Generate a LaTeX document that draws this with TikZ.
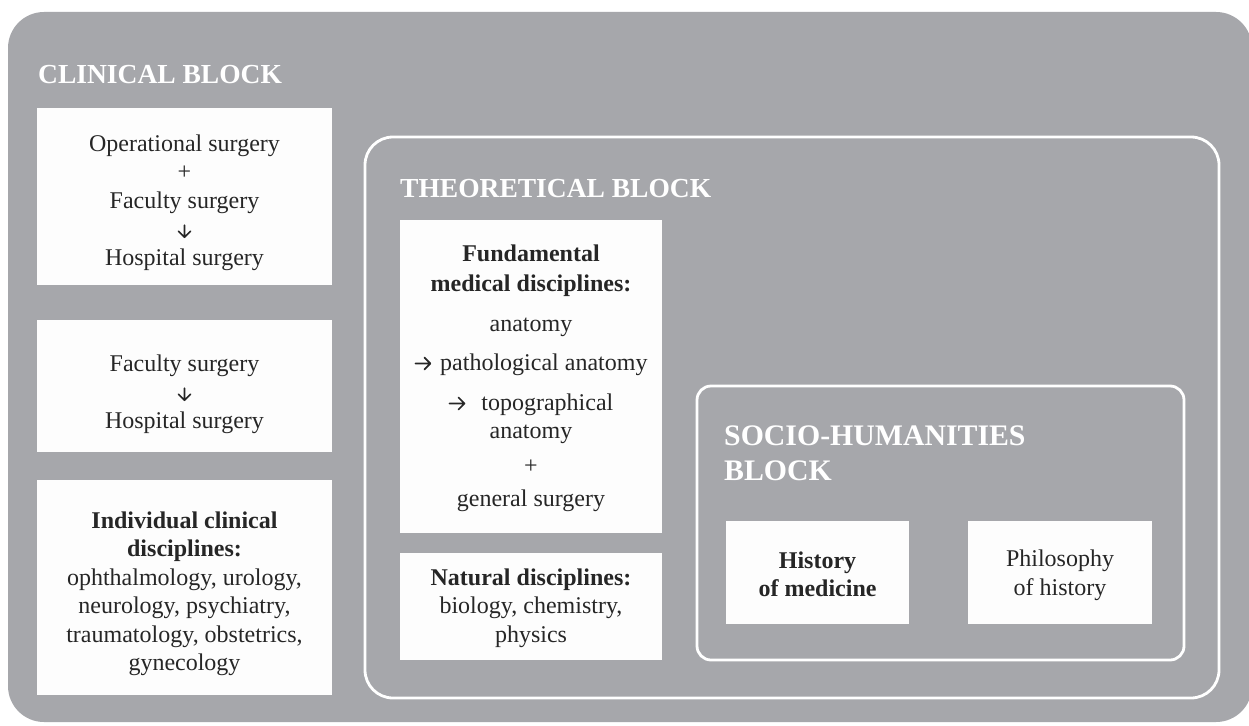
\documentclass[tikz,border=0pt]{standalone}
\usepackage{fontspec}
\setmainfont{Liberation Serif}
\definecolor{bggray}{RGB}{166,167,171}
\definecolor{txt}{RGB}{38,38,38}
\definecolor{boxw}{RGB}{253,253,253}
\newcommand\darr{\tikz[baseline=0pt,x=1pt,y=1pt]\draw[draw=txt,line width=1.7pt,line cap=round,line join=round] (0,11.5)--(0,-0.5) (-6,5.5)--(0,-0.5)--(6,5.5);}
\newcommand\rarr{\tikz[baseline=0pt,x=1pt,y=1pt]\draw[draw=txt,line width=1.7pt,line cap=round,line join=round] (0,7)--(15,7) (9,13)--(15,7)--(9,1);}
\begin{document}
\begin{tikzpicture}[x=1pt,y=-1pt,
  box/.style={fill=boxw, draw=none, inner sep=0pt},
  lbl/.style={align=center, text=txt, inner sep=0pt,
    font=\fontsize{24}{28.5}\selectfont},
  heading/.style={text=white, inner sep=0pt, anchor=base west,
    font=\fontsize{27.5}{33}\selectfont\bfseries},
  frame/.style={draw=white, line width=2.8pt, inner sep=0pt}]
\useasboundingbox (0,0) rectangle (1249,725);
\fill[white] (0,0) rectangle (1249,725);
\fill[bggray, rounded corners=36pt] (8,12) rectangle (1252,722);

% clinical block
\node[heading] (hclin) at (38,83) {CLINICAL BLOCK};
\node[box, minimum width=295pt, minimum height=177pt] (b1) at (184.5,196.5) {};
\node[lbl, yshift=-6pt] (t1) at (b1.center)
  {Operational surgery\\+\\Faculty surgery\\\darr\\Hospital surgery};
\node[box, minimum width=295pt, minimum height=132pt] (b2) at (184.5,386) {};
\node[lbl, yshift=-8pt] (t2) at (b2.center)
  {Faculty surgery\\\darr\\Hospital surgery};
\node[box, minimum width=295pt, minimum height=215pt] (b3) at (184.5,587.5) {};
\node[lbl, yshift=-6.5pt] (t3) at (b3.center)
  {\textbf{Individual clinical}\\\textbf{disciplines:}\\ophthalmology, urology,\\neurology, psychiatry,\\traumatology, obstetrics,\\gynecology};

% theoretical block
\node[frame, rounded corners=28pt, minimum width=854pt, minimum height=561pt] (theo) at (792,417.5) {};
\node[heading] (htheo) at (400,197) {THEORETICAL BLOCK};
\node[box, minimum width=262pt, minimum height=313pt] (fund) at (531,376.5) {};
\node[lbl, yshift=-2pt] (tf) at (fund.center)
  {\textbf{Fundamental}\\[1.5pt]\textbf{medical disciplines:}\\[11.5pt]anatomy\\[10.5pt]\rarr\hspace{9pt}pathological anatomy\\[11.5pt]\rarr\hspace{16pt}topographical\hspace*{23pt}\\anatomy\\[6.5pt]+\\[4.5pt]general surgery};
\node[box, minimum width=262pt, minimum height=107pt] (nat) at (531,606.5) {};
\node[lbl, yshift=-1.5pt] (tn) at (nat.center)
  {\textbf{Natural disciplines:}\\biology, chemistry,\\physics};

% socio-humanities block
\node[frame, rounded corners=14pt, minimum width=487pt, minimum height=274pt] (socio) at (940.5,523) {};
\node[heading, font=\fontsize{29.8}{35}\selectfont\bfseries] (hsoc1) at (724,445) {SOCIO-HUMANITIES};
\node[heading, font=\fontsize{29.8}{35}\selectfont\bfseries] (hsoc2) at (724,480) {BLOCK};
\node[box, minimum width=183pt, minimum height=103pt] (hist) at (817.5,572.5) {};
\node[lbl, yshift=-2pt] (th) at (hist.center) {\textbf{History}\\\textbf{of medicine}};
\node[box, minimum width=184pt, minimum height=103pt] (phil) at (1060,572.5) {};
\node[lbl, yshift=-3pt] (tp) at (phil.center) {Philosophy\\of history};
\end{tikzpicture}
\end{document}
